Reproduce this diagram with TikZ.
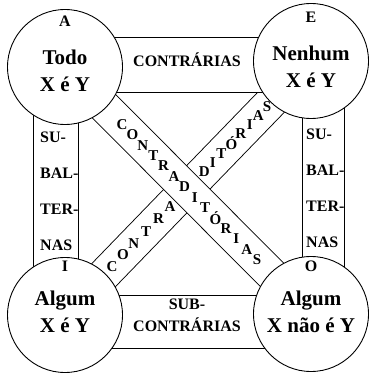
\documentclass[tikz,border=0pt]{standalone}
\usepackage{fontspec}
\setmainfont{Liberation Serif}
\usetikzlibrary{positioning,calc,backgrounds}
\tikzset{
  termo/.style={circle,draw,fill=white,line width=0.9pt,minimum size=115pt,inner sep=0pt},
  texto/.style={align=center,inner sep=0pt,font=\fontsize{21}{27}\selectfont\bfseries},
  banda/.style={draw,fill=white,line width=0.9pt},
  diag/.style={draw,line width=0.9pt,double=white,double distance=32pt},
  rotulo/.style={font=\fontsize{16}{18}\selectfont\bfseries,inner sep=0pt},
  letra/.style={font=\fontsize{15}{18}\selectfont\bfseries,inner sep=0pt}
}

\begin{document}
\begin{tikzpicture}[x=1pt,y=-1pt]
\useasboundingbox (0,0) rectangle (369,374);
% os quatro termos
\node[termo] (A) at (65,67) {};
\node[termo] (E) at (311,61) {};
\node[termo] (I) at (65,315) {};
\node[termo] (O) at (311,314) {};
\node[texto] (tA) at ($(A)+(0,4)$) {Todo\\X é Y};
\node[texto] (tE) at ($(E)+(0,6)$) {Nenhum\\X é Y};
\node[texto] (tI) at ($(I)+(0,-3)$) {Algum\\X é Y};
\node[texto] (tO) at ($(O)+(0,-2)$) {Algum\\X não é Y};
\node[rotulo] (lA) at ($(A.north)+(0,12)$) {A};
\node[rotulo] (lE) at ($(E.north)+(0,14)$) {E};
\node[rotulo] (lI) at ($(I.north)+(0,9.5)$) {I};
\node[rotulo] (lO) at ($(O.north)+(0,10.5)$) {O};
% faixas entre os termos
\begin{scope}[on background layer]
\draw[diag] (I.center) -- (E.center);
\draw[diag] (A.center) -- (O.center);
\draw[banda] (A.center |- 0,37) rectangle (E.center |- 0,92);
\draw[banda] (I.center |- 0,295) rectangle (O.center |- 0,348);
\draw[banda] (A.center -| 33,0) rectangle (I.center -| 78,0);
\draw[banda] (E.center -| 302,0) rectangle (O.center -| 344,0);
\end{scope}
\node[rotulo] (contr) at (187,60) {CONTRÁRIAS};
\node[rotulo,align=center,font=\fontsize{16}{22}\selectfont\bfseries] (subcontr) at (187,315) {SUB-\\CONTRÁRIAS};
\foreach \s [count=\k] in {SU-,BAL-,TER-,NAS}{
  \node[rotulo,anchor=west] (esq\k) at (40,101+36*\k) {\s};
  \node[rotulo,anchor=west] (dir\k) at (306,98+36*\k) {\s};
}
% contraditorias
\foreach \l [count=\k, evaluate=\k as \t using 0.19+0.0422*\k] in {C,O,N,T,R,A,D,I,T,Ó,R,I,A,S}
  \path (A.center) -- (O.center) node[letra,pos=\t] {\l};
\foreach \l/\t in {C/0.191,O/0.236,N/0.28,T/0.33,R/0.38,A/0.427,D/0.566,I/0.601,T/0.636,Ó/0.677,R/0.715,I/0.751,A/0.786,S/0.821}
  \path (I.center) -- (E.center) node[letra,pos=\t] {\l};
\end{tikzpicture}
\end{document}
